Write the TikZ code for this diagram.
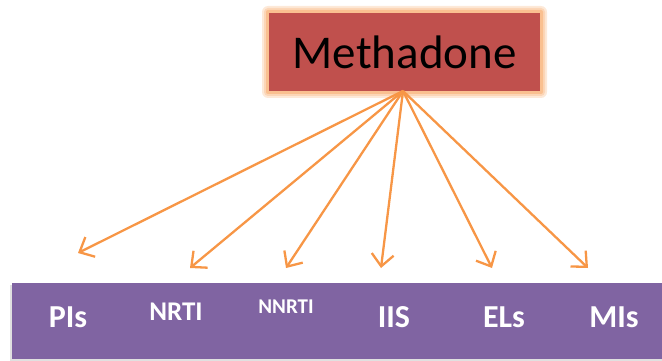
\documentclass[tikz,border=0pt]{standalone}
\usepackage{fontspec}
\setmainfont{Carlito}
\usetikzlibrary{arrows.meta}
\definecolor{methred}{HTML}{C0504D}
\definecolor{glow}{HTML}{FAC090}
\definecolor{arr}{HTML}{F79646}
\definecolor{band}{HTML}{8064A2}
\tikzset{
  conn/.style={draw=arr, line width=2.3pt, -{Straight Barb[length=12pt,width=22pt,line width=2.3pt]}},
  lab/.style={text=white, font=\bfseries, anchor=center, inner sep=0pt},
}
\begin{document}
\begin{tikzpicture}[x=1pt,y=-1pt]
\useasboundingbox (0,0) rectangle (662,361);
% Methadone box with glow
\fill[glow!35, rounded corners=6pt] (262,6) rectangle (547,98);
\fill[glow!65, rounded corners=4pt] (264,8) rectangle (545,96);
\fill[glow, rounded corners=2pt] (266,10) rectangle (543,94);
\node[fill=methred, minimum width=271pt, minimum height=78pt, inner sep=0pt, anchor=north west,
      font=\fontsize{47}{50}\selectfont] (meth) at (269,13) {Methadone};
% band with faint shadow
\fill[black!12] (10,285) rectangle (662,361);
\node[fill=band, minimum width=650pt, minimum height=76pt, inner sep=0pt, anchor=north west] (bandbox) at (12,283) {};
% labels
\node[lab, font=\bfseries\fontsize{32}{34}\selectfont] (pis) at (68,317) {PIs};
\node[lab, font=\bfseries\fontsize{27}{29}\selectfont] (nrti) at (176,312) {NRTI};
\node[lab, font=\bfseries\fontsize{21}{23}\selectfont] (nnrti) at (286,307) {NNRTI};
\node[lab, font=\bfseries\fontsize{32}{34}\selectfont] (iis) at (394,317) {IIS};
\node[lab, font=\bfseries\fontsize{32}{34}\selectfont] (els) at (504,317) {ELs};
\node[lab, font=\bfseries\fontsize{32}{34}\selectfont] (mis) at (614,317) {MIs};
% arrow tips
\coordinate (src) at (403,91);
\coordinate (t1) at (78,253);
\coordinate (t2) at (190,268);
\coordinate (t3) at (286,268);
\coordinate (t4) at (381,268);
\coordinate (t5) at (492,268);
\coordinate (t6) at (588,268);
\foreach \t in {t1,t2,t3,t4,t5,t6}
  \draw[conn] (src) -- (\t);
\end{tikzpicture}
\end{document}
